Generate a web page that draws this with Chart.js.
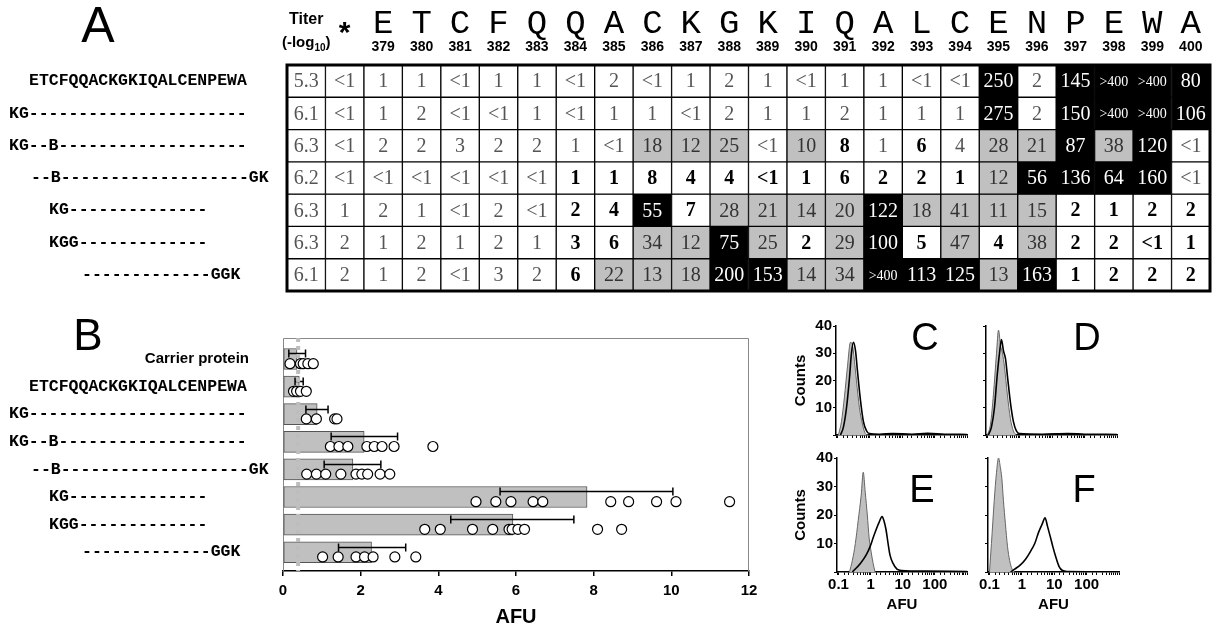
<!DOCTYPE html>
<html>
<head>
<meta charset="utf-8">
<script src="https://cdn.jsdelivr.net/npm/chart.js@4.4.1/dist/chart.umd.min.js"></script>
<style>
html,body{margin:0;padding:0;background:#fff;}
body{width:1212px;height:629px;position:relative;overflow:hidden;}
.p{position:absolute;}
canvas{display:block;}
</style>
</head>
<body>
<div class="p" style="left:0px;top:0px"><canvas id="chartA" width="1212" height="300"></canvas></div>
<div class="p" style="left:0px;top:300px"><canvas id="chartB" width="780" height="329"></canvas></div>
<div class="p" style="left:792px;top:316px"><canvas id="chartC" width="190" height="129"></canvas></div>
<div class="p" style="left:942px;top:316px"><canvas id="chartD" width="190" height="129"></canvas></div>
<div class="p" style="left:792px;top:448px"><canvas id="chartE" width="190" height="170"></canvas></div>
<div class="p" style="left:942px;top:448px"><canvas id="chartF" width="190" height="170"></canvas></div>
<script>
const SANS = '"Liberation Sans", Arial, sans-serif';
const MONO = '"Liberation Mono", "Courier New", monospace';
const SERIF = '"Liberation Serif", "Times New Roman", serif';

/* ---------------- Panel A data ---------------- */
const residues = ['E','T','C','F','Q','Q','A','C','K','G','K','I','Q','A','L','C','E','N','P','E','W','A'];
const residueNumbers = [379,380,381,382,383,384,385,386,387,388,389,390,391,392,393,394,395,396,397,398,399,400];
const peptides = [
  'ETCFQQACKGKIQALCENPEWA',
  'KG----------------------',
  'KG--B-------------------',
  '--B-------------------GK',
  'KG--------------',
  'KGG-------------',
  '-------------GGK'
];
const titers = ['5.3','6.1','6.3','6.2','6.3','6.3','6.1'];
// values for columns: *, 379 ... 400
const reactPep1 = ['<1','1','1','<1','1','1','<1','2','<1','1','2','1','<1','1','1','<1','<1','250','2','145','>400','>400','80'];
const reactPep2 = ['<1','1','2','<1','<1','1','<1','1','1','<1','2','1','1','2','1','1','1','275','2','150','>400','>400','106'];
const reactPep3 = ['<1','2','2','3','2','2','1','<1','18','12','25','<1','10','8','1','6','4','28','21','87','38','120','<1'];
const reactPep4 = ['<1','<1','<1','<1','<1','<1','1','1','8','4','4','<1','1','6','2','2','1','12','56','136','64','160','<1'];
const reactPep5 = ['1','2','1','<1','2','<1','2','4','55','7','28','21','14','20','122','18','41','11','15','2','1','2','2'];
const reactPep6 = ['2','1','2','1','2','1','3','6','34','12','75','25','2','29','100','5','47','4','38','2','2','<1','1'];
const reactPep7 = ['2','1','2','<1','3','2','6','22','13','18','200','153','14','34','>400','113','125','13','163','1','2','2','2'];
// residues whose values are printed in bold
const boldPep1 = [];
const boldPep2 = [];
const boldPep3 = [391,393];
const boldPep4 = [384,385,386,387,388,389,390,391,392,393,394];
const boldPep5 = [384,385,387,397,398,399,400];
const boldPep6 = [384,385,390,393,395,397,398,399,400];
const boldPep7 = [384,397,398,399,400];

/* ---------------- Panel B data ---------------- */
const bLabels = ['Carrier protein','ETCFQQACKGKIQALCENPEWA','KG----------------------','KG--B-------------------','--B-------------------GK','KG--------------','KGG-------------','-------------GGK'];
const bMeans = [0.36, 0.42, 0.88, 2.09, 1.80, 7.83, 5.92, 2.28];
const bErrLow = [0.15, 0.31, 0.59, 1.24, 1.06, 5.59, 4.32, 1.43];
const bErrHigh = [0.58, 0.52, 1.16, 2.95, 2.52, 10.04, 7.49, 3.16];
const bPoints0 = [0.18, 0.45, 0.52, 0.64, 0.78];
const bPoints1 = [0.27, 0.35, 0.45, 0.6];
const bPoints2 = [0.6, 0.86, 1.33, 1.39];
const bPoints3 = [1.22, 1.44, 1.67, 2.16, 2.35, 2.55, 2.86, 3.86];
const bPoints4 = [0.61, 0.86, 1.1, 1.49, 1.88, 2.03, 2.18, 2.5, 2.75];
const bPoints5 = [4.97, 5.48, 5.87, 6.44, 6.69, 8.44, 8.9, 9.62, 10.12, 11.5];
const bPoints6 = [3.65, 4.05, 4.88, 5.4, 5.82, 5.9, 6.05, 6.22, 8.1, 8.72];
const bPoints7 = [1.02, 1.42, 1.88, 2.1, 2.32, 2.88, 3.42];
const bCutoff = 0.39;
const bTicks = [0, 2, 4, 6, 8, 10, 12];

/* ---------------- Panels C-F data: [AFU, counts] ---------------- */
const histCControl = [[0.107,0],[0.133,5],[0.164,14],[0.203,25],[0.252,34],[0.29,33],[0.335,27],[0.385,20],[0.477,10],[0.59,4],[0.73,0.5],[0.9,0]];
const histCSample = [[0.124,0],[0.153,3],[0.19,10],[0.235,21],[0.27,30],[0.311,34],[0.36,31],[0.41,24],[0.51,13],[0.63,5],[0.79,1.5],[0.97,0.5],[2,0.3],[5,0.5],[20,0.3],[60,0.6],[200,0.3],[1000,0.2]];
const histDControl = [[0.1,0],[0.124,4],[0.153,15],[0.19,30],[0.219,38.5],[0.252,33],[0.29,30],[0.335,25],[0.41,15],[0.51,6],[0.63,1.5],[0.78,0]];
const histDSample = [[0.107,0],[0.133,3],[0.164,10],[0.2,22],[0.235,30],[0.27,35],[0.31,31],[0.36,28],[0.41,22],[0.51,12],[0.63,5],[0.78,1.5],[0.97,0.5],[5,0.3],[30,0.5],[100,0.3],[1000,0.2]];
const histEControl = [[0.22,0],[0.27,4],[0.335,10],[0.41,18],[0.51,27],[0.59,35],[0.68,28],[0.79,20],[0.9,12],[1.04,7],[1.2,3],[1.38,0]];
const histESample = [[0.27,0],[0.48,3],[0.73,6],[0.97,9],[1.2,12],[1.5,15],[1.85,17.5],[2.28,19.5],[2.6,18],[3.0,15],[3.5,10],[4.0,6],[5.0,3],[6.6,1],[9.4,0.5],[50,0.3],[1000,0.2]];
const histFControl = [[0.1,0],[0.115,10],[0.14,25],[0.165,35],[0.19,40],[0.215,37],[0.24,33],[0.27,25],[0.31,17],[0.36,9],[0.42,4],[0.5,1],[0.6,0]];
const histFSample = [[0.45,0],[0.6,1],[0.9,2.5],[1.3,4.5],[1.8,7],[2.5,10],[3.3,14],[4.3,17],[5.2,19],[6.2,16],[7.5,12.5],[9,9],[11,5.5],[14,2],[18,0.5],[25,0.2],[1000,0.1]];
const histDecadeLabels = [0.1, 1, 10, 100];

/* ---------------- helpers ---------------- */
function parseReact(s){ if(s[0]==='<') return 0.5; if(s[0]==='>') return 401; return parseFloat(s); }
function shadeOf(s){ const v = parseReact(s); return v >= 50 ? 'black' : (v >= 10 ? 'gray' : 'white'); }
const SHADE_FILL = {black:'#000000', gray:'#c0c0c0', white:'#ffffff'};

/* ---------------- Panel A chart ---------------- */
const reactRows = [reactPep1,reactPep2,reactPep3,reactPep4,reactPep5,reactPep6,reactPep7];
const boldRows = [boldPep1,boldPep2,boldPep3,boldPep4,boldPep5,boldPep6,boldPep7];
const columnLabelsA = ['Titer','*'].concat(residueNumbers.map(String));
const peptideLabelX = [29, 9, 9, 31, 49, 49, 82];

const tablePlugin = {
  id:'tableText',
  afterDatasetsDraw(chart){
    const {ctx, chartArea:a, scales:{x, y}} = chart;
    ctx.save();
    ctx.strokeStyle = '#000'; ctx.lineWidth = 3;
    ctx.strokeRect(a.left, a.top, a.right - a.left, a.bottom - a.top);
    ctx.textAlign = 'center'; ctx.textBaseline = 'middle';
    // column header
    residues.forEach((res, i) => {
      const cx = x.getPixelForValue(i + 2);
      ctx.fillStyle = '#000';
      ctx.font = '34px ' + MONO; ctx.fillText(res, cx, a.top - 41);
      ctx.font = 'bold 14px ' + SANS; ctx.fillText(String(residueNumbers[i]), cx, a.top - 18);
    });
    const c0 = x.getPixelForValue(0);
    ctx.font = 'bold 16px ' + SANS; ctx.fillText('Titer', c0, a.top - 45);
    ctx.textAlign = 'left';
    const f1 = 'bold 15px ' + SANS, f2 = 'bold 10px ' + SANS;
    ctx.font = f1; const w1 = ctx.measureText('(-log').width, w3 = ctx.measureText(')').width;
    ctx.font = f2; const w2 = ctx.measureText('10').width;
    let sx = c0 - (w1 + w2 + w3) / 2;
    ctx.font = f1; ctx.fillText('(-log', sx, a.top - 22);
    ctx.font = f2; ctx.fillText('10', sx + w1, a.top - 17);
    ctx.font = f1; ctx.fillText(')', sx + w1 + w2, a.top - 22);
    ctx.textAlign = 'center';
    ctx.font = 'bold 30px ' + SANS; ctx.fillText('*', x.getPixelForValue(1), a.top - 31);
    // cells
    reactRows.forEach((vals, r) => {
      const cy = y.getPixelForValue(r + 0.5);
      ctx.font = '20px ' + SERIF; ctx.fillStyle = '#555';
      ctx.fillText(titers[r], c0, cy + 1);
      vals.forEach((s, k) => {
        const cx = x.getPixelForValue(k + 1);
        const shade = shadeOf(s);
        const bold = k > 0 && boldRows[r].includes(residueNumbers[k - 1]);
        const size = s[0] === '>' ? 14 : 20;
        if (shade === 'black') { ctx.fillStyle = '#fff'; ctx.font = size + 'px ' + SERIF; }
        else if (shade === 'gray') { ctx.fillStyle = '#333'; ctx.font = size + 'px ' + SERIF; }
        else if (bold) { ctx.fillStyle = '#000'; ctx.font = 'bold ' + size + 'px ' + SERIF; }
        else { ctx.fillStyle = '#555'; ctx.font = size + 'px ' + SERIF; }
        ctx.fillText(s, cx, cy + 1);
      });
      // row label
      ctx.textAlign = 'left'; ctx.fillStyle = '#000';
      ctx.font = 'bold 16.5px ' + MONO;
      ctx.fillText(peptides[r], peptideLabelX[r], cy);
      ctx.textAlign = 'center';
    });
    ctx.fillStyle = '#000'; ctx.font = '50px ' + SANS;
    ctx.fillText('A', 98, 28);
    ctx.restore();
  }
};

new Chart(document.getElementById('chartA'), {
  type: 'bar',
  data: {
    labels: columnLabelsA,
    datasets: reactRows.map((vals, r) => ({
      data: columnLabelsA.map(() => [r, r + 1]),
      backgroundColor: ['#ffffff'].concat(vals.map(s => SHADE_FILL[shadeOf(s)])),
      borderColor: '#000', borderWidth: 1, borderSkipped: false,
      grouped: false, categoryPercentage: 1, barPercentage: 1
    }))
  },
  options: {
    responsive: false, animation: false, devicePixelRatio: 1,
    layout: { padding: { left: 287, right: 2, top: 65, bottom: 9 } },
    plugins: { legend: { display: false }, tooltip: { enabled: false } },
    scales: {
      x: { type: 'category', display: false, offset: true },
      y: { type: 'linear', display: false, min: 0, max: 7, reverse: true }
    }
  },
  plugins: [tablePlugin]
});

/* ---------------- Panel B chart ---------------- */
const bPointRows = [bPoints0,bPoints1,bPoints2,bPoints3,bPoints4,bPoints5,bPoints6,bPoints7];
const bLabelX = [249, 29, 9, 9, 31, 49, 49, 82];
const bPlugin = {
  id: 'bDecor',
  beforeDatasetsDraw(chart){
    const {ctx, chartArea:a} = chart;
    ctx.save(); ctx.strokeStyle = '#888'; ctx.lineWidth = 1;
    ctx.beginPath();
    ctx.moveTo(a.left + 0.5, a.bottom); ctx.lineTo(a.left + 0.5, a.top + 0.5);
    ctx.lineTo(a.right - 0.5, a.top + 0.5); ctx.lineTo(a.right - 0.5, a.bottom);
    ctx.stroke(); ctx.restore();
  },
  afterDatasetDraw(chart, args){
    if (args.index !== 0) return;
    const {ctx, scales:{x, y}} = chart;
    ctx.save(); ctx.strokeStyle = '#000'; ctx.lineWidth = 1.5;
    bMeans.forEach((m, i) => {
      const yy = Math.round(y.getPixelForValue(i - 0.2)) + 0.5;
      const x1 = x.getPixelForValue(bErrLow[i]), x2 = x.getPixelForValue(bErrHigh[i]);
      ctx.beginPath();
      ctx.moveTo(x1, yy); ctx.lineTo(x2, yy);
      ctx.moveTo(x1, yy - 4); ctx.lineTo(x1, yy + 4);
      ctx.moveTo(x2, yy - 4); ctx.lineTo(x2, yy + 4);
      ctx.stroke();
    });
    ctx.restore();
  },
  afterDraw(chart){
    const {ctx, scales:{y}} = chart;
    ctx.save(); ctx.fillStyle = '#000'; ctx.textBaseline = 'middle';
    bLabels.forEach((lab, i) => {
      const yy = y.getPixelForValue(i);
      if (/[a-z]/.test(lab)) { ctx.textAlign = 'right'; ctx.font = 'bold 15px ' + SANS; }
      else { ctx.textAlign = 'left'; ctx.font = 'bold 16.5px ' + MONO; }
      ctx.fillText(lab, bLabelX[i], yy);
    });
    ctx.textAlign = 'center'; ctx.font = '44px ' + SANS;
    ctx.fillText('B', 88, 38);
    ctx.restore();
  }
};

new Chart(document.getElementById('chartB'), {
  type: 'bar',
  data: {
    datasets: [
      { type: 'bar', indexAxis: 'y', data: bMeans.map((m, i) => ({x: m, y: i})),
        backgroundColor: '#c0c0c0', borderColor: '#555', borderWidth: 1, borderSkipped: false,
        barThickness: 21, order: 3 },
      { type: 'line', data: [{x: bCutoff, y: -0.76}, {x: bCutoff, y: 7.68}],
        borderColor: '#bdbdbd', borderWidth: 4, borderDash: [4, 4], pointRadius: 0, fill: false, order: 2 },
      { type: 'scatter', data: bPointRows.flatMap((pts, i) => pts.map(v => ({x: v, y: i + 0.17}))),
        pointRadius: 5, pointBackgroundColor: '#fff', pointBorderColor: '#000', pointBorderWidth: 1.2, order: 1 }
    ]
  },
  options: {
    responsive: false, animation: false, devicePixelRatio: 1,
    layout: { padding: { left: 283, right: 31, top: 38, bottom: 0 } },
    plugins: { legend: { display: false }, tooltip: { enabled: false } },
    scales: {
      x: { type: 'linear', min: 0, max: 12, offset: false,
        afterBuildTicks: s => { s.ticks = bTicks.map(v => ({value: v})); },
        ticks: { font: {family: SANS, weight: 'bold', size: 15}, color: '#000', padding: 6, maxRotation: 0 },
        grid: { display: true, offset: false, drawOnChartArea: false, drawTicks: true, tickLength: 5, color: '#000', lineWidth: 1.5 },
        border: { display: true, color: '#000', width: 1.5 },
        title: { display: true, text: 'AFU', font: {family: SANS, weight: 'bold', size: 20}, color: '#000', padding: {top: 0, bottom: 0} },
        afterFit: s => { s.height = 58; } },
      y: { type: 'linear', display: false, offset: false, min: -0.76, max: 7.68, reverse: true }
    }
  },
  plugins: [bPlugin]
});

/* ---------------- Panels C-F ---------------- */
function makeHist(id, control, sample, cfg){
  const letterPlugin = {
    id: 'letter' + cfg.letter,
    afterDraw(chart){
      const {ctx, chartArea:a} = chart;
      ctx.save(); ctx.fillStyle = '#000'; ctx.font = '38px ' + SANS;
      ctx.textAlign = 'center'; ctx.textBaseline = 'middle';
      ctx.fillText(cfg.letter, a.left + cfg.lx, a.top + cfg.ly);
      ctx.restore();
    }
  };
  new Chart(document.getElementById(id), {
    type: 'line',
    data: { datasets: [
      { data: control.map(([x, y]) => ({x, y})), fill: 'origin', backgroundColor: '#c0c0c0',
        borderColor: '#666', borderWidth: 1, pointRadius: 0, cubicInterpolationMode: 'monotone', order: 2 },
      { data: sample.map(([x, y]) => ({x, y})), fill: false,
        borderColor: '#000', borderWidth: 1.6, pointRadius: 0, cubicInterpolationMode: 'monotone', order: 1 }
    ]},
    options: {
      responsive: false, animation: false, devicePixelRatio: 1,
      layout: { padding: { left: 0, right: cfg.padRight, top: 10, bottom: 0 } },
      plugins: { legend: { display: false }, tooltip: { enabled: false } },
      scales: {
        x: { type: 'logarithmic', min: 0.09, max: 1000,
          ticks: { autoSkip: false, maxRotation: 0, minRotation: 0, padding: 1, color: '#000',
            font: {family: SANS, weight: 'bold', size: 15},
            callback: v => (cfg.xLabels && histDecadeLabels.some(d => Math.abs(d - v) < 1e-9 * Math.max(1, d))) ? String(v) : '' },
          grid: { display: true, drawOnChartArea: false, tickLength: 3, color: '#000' },
          border: { display: true, color: '#000', width: 1.5 },
          title: { display: cfg.xLabels, text: 'AFU', font: {family: SANS, weight: 'bold', size: 15}, color: '#000', padding: {top: 0, bottom: 4} },
          afterFit: s => { s.height = cfg.xHeight; } },
        y: { min: 0, max: 40,
          ticks: { stepSize: 10, padding: 1, color: '#000', font: {family: SANS, weight: 'bold', size: 15},
            callback: v => (cfg.yLabels && v > 0) ? String(v) : '' },
          grid: { display: true, drawOnChartArea: false, tickLength: 3, color: '#000' },
          border: { display: true, color: '#000', width: 1.5 },
          title: { display: cfg.yLabels, text: 'Counts', font: {family: SANS, weight: 'bold', size: 15}, color: '#000', padding: {top: 0, bottom: 0} },
          afterFit: s => { s.width = cfg.yWidth; } }
      }
    },
    plugins: [letterPlugin]
  });
}
makeHist('chartC', histCControl, histCSample, {letter:'C', lx:89, ly:14, xLabels:false, yLabels:true, yWidth:44, xHeight:7, padRight:15});
makeHist('chartD', histDControl, histDSample, {letter:'D', lx:101, ly:14, xLabels:false, yLabels:false, yWidth:44, xHeight:7, padRight:15});
makeHist('chartE', histEControl, histESample, {letter:'E', lx:85, ly:34, xLabels:true, yLabels:true, yWidth:45, xHeight:46, padRight:15});
makeHist('chartF', histFControl, histFSample, {letter:'F', lx:96, ly:34, xLabels:true, yLabels:false, yWidth:46, xHeight:46, padRight:13});
</script>
</body>
</html>
